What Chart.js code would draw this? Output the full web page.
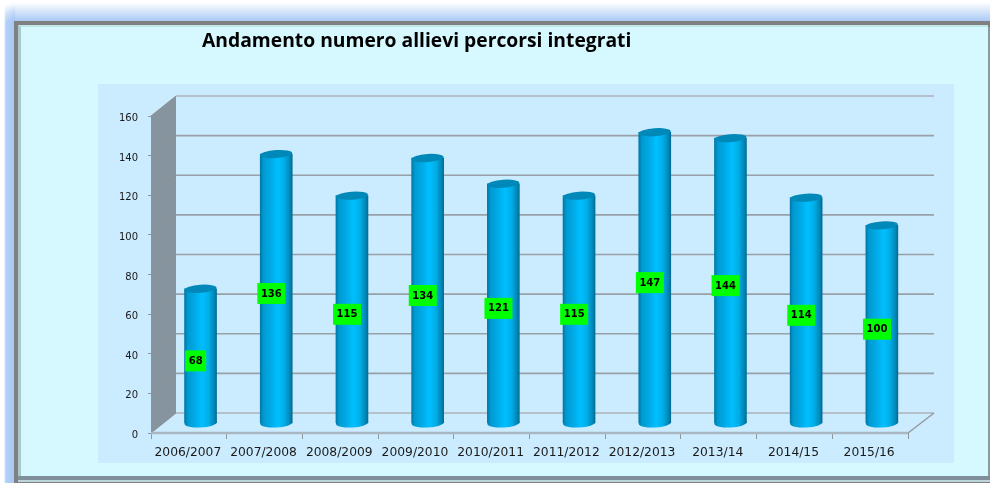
<!DOCTYPE html>
<html><head><meta charset="utf-8">
<script src="https://cdn.jsdelivr.net/npm/chart.js@4/dist/chart.umd.min.js"></script>
<style>
html,body{margin:0;padding:0;background:#fff;overflow:hidden}
#stage{position:relative;width:990px;height:483px;overflow:hidden;background:#fff}
#stage div{position:absolute;box-sizing:border-box}
#glowTop{left:0;top:0;width:990px;height:22px;background:linear-gradient(to bottom,#fff 0,#fff 10%,#a6c7f5 100%);-webkit-mask-image:linear-gradient(to right,transparent 0,transparent 4px,#000 15px);mask-image:linear-gradient(to right,transparent 0,transparent 4px,#000 15px)}
#glowLeft{left:0;top:0;width:15px;height:483px;background:linear-gradient(to right,#fff 0,#fff 25%,#b4d0f6 40%,#a6c7f5 100%);-webkit-mask-image:linear-gradient(to bottom,transparent 0,transparent 5px,#000 22px);mask-image:linear-gradient(to bottom,transparent 0,transparent 5px,#000 22px)}
#frame{left:14px;top:21px;width:976px;height:462px;background:#808080}
#inner{left:18px;top:25px;width:970px;height:451px;background:#d6f8ff;border-top:2px solid #c0e8e8;border-left:3px solid #a8c8cc}
#rightEdge{left:988px;top:27px;width:2px;height:449px;background:#8a9a9e}
#band1{left:18px;top:476px;width:972px;height:4px;background:#7f8f99}
#band2{left:18px;top:480px;width:972px;height:2px;background:#bcd4dc}
#panel{left:98px;top:84px;width:856px;height:379px;background:#cbebff}
canvas{position:absolute;left:0;top:0}
</style></head>
<body><div id="stage"><div id="glowTop"></div><div id="glowLeft"></div><div id="frame"></div><div id="inner"></div><div id="rightEdge"></div><div id="band1"></div><div id="band2"></div><div id="panel"></div>
<canvas id="c" width="990" height="483"></canvas></div>
<script>
const titleText = 'Andamento numero allievi percorsi integrati';
const categories = ['2006/2007','2007/2008','2008/2009','2009/2010','2010/2011','2011/2012','2012/2013','2013/14','2014/15','2015/16'];
const allievi = [68,136,115,134,121,115,147,144,114,100];
const yMax = 160, yStep = 20;
const depthX = 25, depthY = 20, barDX = 11.7, barDY = 9.5;

const scene = {
  id: 'scene',
  beforeDatasetsDraw(chart) {
    const {ctx, chartArea: a, scales: {y}} = chart;
    const t = a.top, b = a.bottom, l = a.left, r = a.right;
    ctx.save();
    // side wall
    ctx.fillStyle = '#85949f';
    ctx.beginPath();
    ctx.moveTo(l, t); ctx.lineTo(l + depthX, t - depthY);
    ctx.lineTo(l + depthX, b - depthY); ctx.lineTo(l, b); ctx.closePath(); ctx.fill();
    // grid lines on the back wall and side wall
    y.ticks.forEach(tk => {
      const py = y.getPixelForValue(tk.value);
      const isEdge = tk.value === 0 || tk.value === yMax;
      ctx.strokeStyle = isEdge ? '#b4c1cb' : '#98a1a8';
      ctx.lineWidth = isEdge ? 2 : 1.7;
      ctx.beginPath(); ctx.moveTo(l + depthX, py - depthY); ctx.lineTo(r + depthX + 1, py - depthY); ctx.stroke();
      ctx.strokeStyle = '#8d8f90'; ctx.lineWidth = 1;
      ctx.beginPath(); ctx.moveTo(l, py); ctx.lineTo(l + depthX, py - depthY); ctx.stroke();
    });
    // floor front edge and right edge
    ctx.strokeStyle = '#a9b7c2'; ctx.lineWidth = 2.5;
    ctx.beginPath(); ctx.moveTo(l, b); ctx.lineTo(r, b); ctx.stroke();
    ctx.strokeStyle = '#93999e'; ctx.lineWidth = 1.4;
    ctx.beginPath(); ctx.moveTo(r, b); ctx.lineTo(r + depthX + 1, b - depthY); ctx.stroke();
    ctx.restore();

    ctx.save();
    ctx.translate(barDX, -barDY);
    chart.getDatasetMeta(0).data.forEach(el => {
      ctx.fillStyle = el.options.backgroundColor;
      ctx.beginPath(); ctx.ellipse(el.x, el.base, el.width / 2, 4.5, -0.04, 0, Math.PI * 2); ctx.fill();
    });
  },
  afterDatasetsDraw(chart) {
    const {ctx} = chart;
    chart.getDatasetMeta(0).data.forEach(el => {
      ctx.fillStyle = '#0088b8';
      ctx.beginPath(); ctx.ellipse(el.x, el.y, el.width / 2, 4, -0.07, 0, Math.PI * 2); ctx.fill();
    });
    ctx.restore();
    // value tags
    ctx.save();
    ctx.font = 'bold 10px "DejaVu Sans"';
    ctx.textAlign = 'center'; ctx.textBaseline = 'middle';
    chart.getDatasetMeta(0).data.forEach((el, i) => {
      const text = String(allievi[i]);
      const cx = el.x + 6.8, cy = (el.y + el.base) / 2 - 4.5;
      const w = text.length > 2 ? 28 : 21, h = 21;
      ctx.fillStyle = '#00ff00';
      ctx.fillRect(cx - w / 2, cy - h / 2, w, h);
      ctx.fillStyle = '#000';
      ctx.fillText(text, cx, cy + 0.5);
    });
    ctx.restore();
  }
};

new Chart(document.getElementById('c'), {
  type: 'bar',
  plugins: [scene],
  data: {
    labels: categories,
    datasets: [{
      data: allievi,
      barThickness: 32,
      borderWidth: 0,
      backgroundColor(c) {
        if (c.dataIndex === undefined) return '#00aee8';
        const x = c.chart.scales.x.getPixelForValue(c.dataIndex);
        if (!Number.isFinite(x)) return '#00aee8';
        const g = c.chart.ctx.createLinearGradient(x - 16, 0, x + 16, 0);
        g.addColorStop(0, '#0079a8');
        g.addColorStop(0.1, '#009ad0');
        g.addColorStop(0.3, '#00a8e4');
        g.addColorStop(0.55, '#00bfff');
        g.addColorStop(0.75, '#00aee8');
        g.addColorStop(0.92, '#0088b8');
        g.addColorStop(1, '#006d98');
        return g;
      }
    }]
  },
  options: {
    responsive: false,
    animation: false,
    events: [],
    layout: {padding: {left: 0, right: 82, top: 0, bottom: 0}},
    plugins: {
      legend: {display: false},
      tooltip: {enabled: false},
      title: {
        display: true, text: titleText, align: 'start', color: '#000',
        font: {family: '"Open Sans"', size: 19.3, weight: 'bold', lineHeight: 1.2},
        padding: {top: 30, bottom: 62.84}
      }
    },
    scales: {
      x: {
        afterFit(s) { s.height = 50; },
        border: {display: false},
        grid: {drawOnChartArea: false, drawTicks: true, tickLength: 6, color: '#8f989f', lineWidth: 1},
        ticks: {color: '#1a1a1a', padding: 6, labelOffset: -1, maxRotation: 0, autoSkip: false, font: {family: '"DejaVu Sans"', size: 12.3}}
      },
      y: {
        min: 0, max: yMax,
        afterFit(s) { s.width = 151; },
        border: {display: false},
        grid: {drawOnChartArea: false, drawTicks: true, tickLength: 3, color: '#8f989f', lineWidth: 1},
        ticks: {stepSize: yStep, color: '#1a1a1a', padding: 10, labelOffset: 2.5, font: {family: '"DejaVu Sans"', size: 10}}
      }
    }
  }
});
// title sits left of the plot centre in the reference
const ch = Chart.getChart('c');
ch.titleBlock.left = 202;
ch.draw();
</script></body></html>
